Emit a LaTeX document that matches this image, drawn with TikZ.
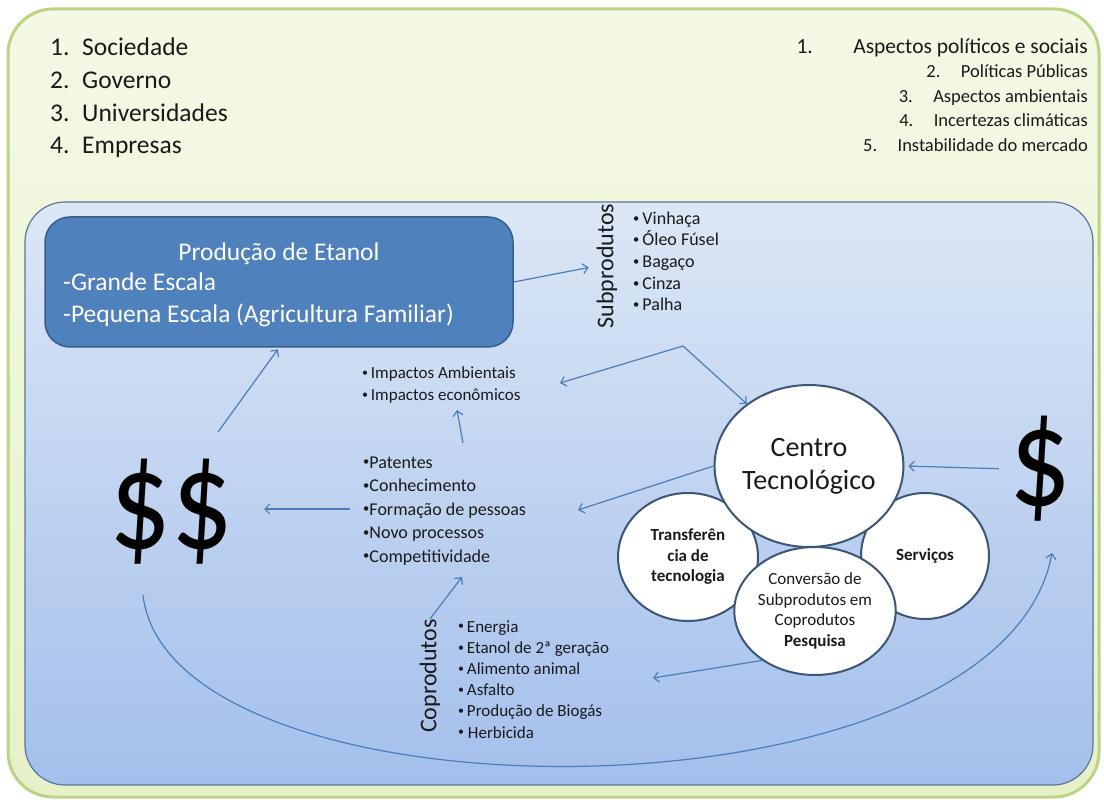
\documentclass[tikz,border=0pt]{standalone}
\usepackage{fontspec}
\usepackage{graphicx}
\setmainfont{Carlito}
\usetikzlibrary{arrows.meta,shapes.geometric}

\definecolor{outertop}{HTML}{F4F9E6}
\definecolor{outerbot}{HTML}{E6F1C8}
\definecolor{outerline}{HTML}{BBD484}
\definecolor{innertop}{HTML}{DCE7F5}
\definecolor{innerbot}{HTML}{A3BFEC}
\definecolor{innerline}{HTML}{5B7594}
\definecolor{prodfill}{HTML}{4F81BD}
\definecolor{prodline}{HTML}{385D8A}
\definecolor{arrowc}{HTML}{4A7EBB}
\definecolor{circline}{HTML}{3B5775}
\definecolor{txt}{HTML}{1A1A1A}

\newcommand\setfs[1]{\fontsize{#1}{#1}\selectfont}
% small raised bullet used in the item lists
\newcommand\blt{\raisebox{.12em}{\scalebox{.7}{•}}}

\begin{document}
\begin{tikzpicture}[x=1pt,y=-1pt,
  lbl/.style={inner sep=0pt, text=txt, anchor=base west},
  lblr/.style={inner sep=0pt, text=txt, anchor=base east},
  arr/.style={draw=arrowc, line width=1.2pt, -{Straight Barb[length=5pt,width=10pt]}},
  prodbox/.style={draw=prodline, line width=1.5pt, fill=prodfill, rounded corners=25pt, inner sep=0pt},
  circ/.style={ellipse, draw=circline, line width=2pt, fill=white, inner sep=0pt, text=txt, align=center},
  bigsign/.style={inner sep=0pt, text=black, font=\setfs{122}}
]
\useasboundingbox (0,0) rectangle (1104,802);

% outer panel and inner panel
\path[top color=outertop, bottom color=outerbot, draw=outerline, line width=3pt, rounded corners=45pt]
  (8,9) rectangle (1099,797);
\path[top color=innertop, bottom color=innerbot, draw=innerline, line width=1.2pt, rounded corners=40pt]
  (25,202) rectangle (1093,785);

% actors (left) and uncertainties (right)
\foreach \n/\t/\y in {1/Sociedade/56, 2/Governo/89, 3/Universidades/122, 4/Empresas/154}{
  \node[lbl, font=\setfs{25.5}] (actn\n) at (50,\y) {\n.};
  \node[lbl, font=\setfs{25.5}] (act\n) at (82,\y) {\t};
}
\foreach \n/\g/\s/\t/\y in {1/40/21.5/Aspectos políticos e sociais/53.3, 2/20/18.5/Políticas Públicas/77.8,
    3/20/18.5/Aspectos ambientais/102.3, 4/20/18.5/Incertezas climáticas/126.8, 5/20/18.5/Instabilidade do mercado/151.3}{
  \node[lblr, font=\setfs{\s}] (risk\n) at (1088,\y) {\t};
  \node[lblr, font=\setfs{\s}] (riskn\n) at ([xshift=-\g pt]risk\n.base west) {\n.};
}

% ethanol production
\node[prodbox, minimum width=468pt, minimum height=130pt] (prod) at (279,282) {};
\node[inner sep=0pt, anchor=base, text=white, font=\setfs{25.5}] (prodt) at (279,261) {Produção de Etanol};
\node[inner sep=0pt, anchor=base west, text=white, font=\setfs{25.5}] (prod1) at (63,291) {-Grande Escala};
\node[inner sep=0pt, anchor=base west, text=white, font=\setfs{25.5}] (prod2) at (63,323) {-Pequena Escala (Agricultura Familiar)};

% by-products
\node[rotate=90, inner sep=0pt, text=txt, font=\setfs{24}] (subp) at (607,266) {Subprodutos};
\foreach \i/\t/\y in {1/Vinhaça/224.5, 2/Óleo Fúsel/246, 3/Bagaço/267.5, 4/Cinza/289.5, 5/Palha/310.5}{
  \node[lbl, font=\setfs{18}] (subl\i) at (633,\y) {\blt\,\t};
}

% impacts
\node[lbl, font=\setfs{17}] (imp1) at (362,379) {\blt\,Impactos Ambientais};
\node[lbl, font=\setfs{17}] (imp2) at (362,401) {\blt\,Impactos econômicos};

% outcomes
\foreach \i/\t/\y in {1/Patentes/468, 2/Conhecimento/491.5, 3/Formação de pessoas/515, 4/Novo processos/538.5, 5/Competitividade/562}{
  \node[lbl, font=\setfs{18}] (out\i) at (363,\y) {\blt\t};
}

% co-products
\node[rotate=90, inner sep=0pt, text=txt, font=\setfs{24}] (copr) at (430,676) {Coprodutos};
\foreach \i/\t/\y in {1/\blt\,Energia/632, 2/\blt\,Etanol de 2ª geração/653.2, 3/\blt\,Alimento animal/674.4,
    4/\blt\,Asfalto/695.6, 5/\blt\,Produção de Biogás/716.8, 6/\blt\ Herbicida/738}{
  \node[lbl, font=\setfs{17}] (copl\i) at (458,\y) {\t};
}

% money
\node[bigsign] (dd) at (171,512) {\scalebox{1}[1.16]{\$\$}};
\node[bigsign] (dol) at (1040,469) {\scalebox{1}[1.16]{\$}};

% technology centre
\node[circ, minimum width=140pt, minimum height=128pt, font=\fontsize{17}{20.5}\selectfont\bfseries] (transf) at (688,557)
  {Transferên\\cia de\\tecnologia};
\node[circ, minimum width=128pt, minimum height=126pt, font=\fontsize{17}{20.5}\selectfont\bfseries] (serv) at (925,556)
  {Serviços};
\node[circ, minimum width=174pt, minimum height=162pt, font=\fontsize{28}{33}\selectfont] (centro) at (809,466)
  {Centro\\Tecnológico};
\node[circ, minimum width=130pt, minimum height=128pt, font=\fontsize{17}{20.5}\selectfont] (conv) at (815,611)
  {Conversão de\\Subprodutos em\\Coprodutos\\\textbf{Pesquisa}};

% connectors
\coordinate (bend) at (683,346);
\coordinate (impR) at (560,383);
\coordinate (ddtop) at (218,432);
\coordinate (outTop) at (463,443);
\coordinate (impBot) at (457,410);
\coordinate (outL) at (350,509);
\coordinate (outR) at (578,510);
\coordinate (outBot) at (462,577);
\coordinate (coplR) at (653,678);
\coordinate (ddlow) at (143,595);
\coordinate (dolB) at (1052,553);

\draw[arr, shorten >=8pt] (prod.east) -- (subp.north);
\draw[arr] (bend) -- (impR);
\draw[arr] (bend) -- (centro.135);
\draw[arr, shorten >=2pt] (ddtop) -- (prod.south);
\draw[arr] (outTop) -- (impBot);
\draw[arr, shorten >=31pt] (outL) -- (outL -| dd.east);
\draw[arr] (centro.180) -- (outR);
\draw[arr, shorten >=4pt, shorten <=10pt] (dol.west) -- (centro.east);
\draw[arr] (copr.east) -- (outBot);
\draw[arr] (conv.223) -- (coplR);
\draw[arr] (ddlow) .. controls (170,830) and (1000,830) .. (dolB);
\end{tikzpicture}
\end{document}
